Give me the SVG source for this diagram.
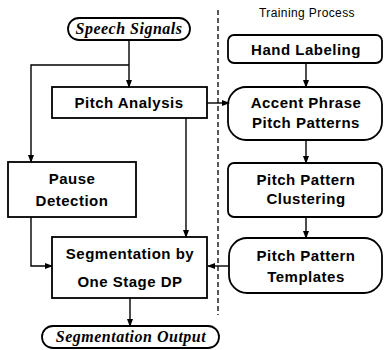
<svg xmlns="http://www.w3.org/2000/svg" width="384" height="350" viewBox="0 0 384 350">
<style>
.box{fill:#fff;stroke:#000;stroke-width:1.8}
.lbl{font-family:"Liberation Sans",Arial,sans-serif;font-weight:bold;font-size:15px;letter-spacing:0.5px;text-anchor:middle;fill:#000}
.io{font-family:"Liberation Serif","Times New Roman",serif;font-weight:bold;font-style:italic;font-size:16px;letter-spacing:0.5px;text-anchor:middle;fill:#000}
.small{font-family:"Liberation Sans",Arial,sans-serif;font-size:12px;letter-spacing:0.4px;text-anchor:middle;fill:#000}
.ln{fill:none;stroke:#000;stroke-width:1.4}
</style>
<defs>
<marker id="ah" markerWidth="8" markerHeight="6" refX="7" refY="3" orient="auto" markerUnits="userSpaceOnUse">
<path d="M0,0 L8,3 L0,6 Z" fill="#000"/>
</marker>
</defs>
<text class="small" x="307" y="17">Training Process</text>
<line x1="218" y1="10" x2="218" y2="315" stroke="#000" stroke-width="1.3" stroke-dasharray="5,3"/>
<g id="speech">
<rect class="box" x="68" y="18" width="122" height="22" rx="11"/>
<text class="io" x="129" y="34">Speech Signals</text>
</g>
<g id="pitch-analysis">
<rect class="box" x="52" y="87" width="155" height="31"/>
<text class="lbl" x="129" y="108">Pitch Analysis</text>
</g>
<g id="pause">
<rect class="box" x="8" y="162" width="128" height="55"/>
<text class="lbl" x="72" y="184">Pause</text>
<text class="lbl" x="72" y="206">Detection</text>
</g>
<g id="segmentation">
<rect class="box" x="52" y="237" width="155" height="61"/>
<text class="lbl" x="130" y="259">Segmentation by</text>
<text class="lbl" x="130" y="287">One Stage DP</text>
</g>
<g id="output">
<rect class="box" x="42" y="326" width="177" height="22" rx="11"/>
<text class="io" x="131" y="342">Segmentation Output</text>
</g>
<g id="hand">
<rect class="box" x="228" y="35" width="154" height="28" rx="6"/>
<text class="lbl" x="306" y="55">Hand Labeling</text>
</g>
<g id="accent">
<rect class="box" x="228" y="87" width="154" height="53" rx="18"/>
<text class="lbl" x="306" y="108">Accent Phrase</text>
<text class="lbl" x="306" y="128">Pitch Patterns</text>
</g>
<g id="clustering">
<rect class="box" x="228" y="163" width="154" height="54" rx="6"/>
<text class="lbl" x="306" y="185">Pitch Pattern</text>
<text class="lbl" x="306" y="204">Clustering</text>
</g>
<g id="templates">
<rect class="box" x="229" y="238" width="153" height="55" rx="18"/>
<text class="lbl" x="306" y="261">Pitch Pattern</text>
<text class="lbl" x="306" y="282">Templates</text>
</g>
<g id="connectors">
<path class="ln" d="M129,40 V87" marker-end="url(#ah)"/>
<path class="ln" d="M129,65 H31 V162" marker-end="url(#ah)"/>
<path class="ln" d="M207,103 H229" marker-end="url(#ah)"/>
<path class="ln" d="M186,118 V237" marker-end="url(#ah)"/>
<path class="ln" d="M31,217 V266 H52" marker-end="url(#ah)"/>
<path class="ln" d="M130,298 V326" marker-end="url(#ah)"/>
<path class="ln" d="M306,63 V87" marker-end="url(#ah)"/>
<path class="ln" d="M306,140 V163" marker-end="url(#ah)"/>
<path class="ln" d="M306,217 V238" marker-end="url(#ah)"/>
<path class="ln" d="M229,266 H208" marker-end="url(#ah)"/>
</g>
</svg>
